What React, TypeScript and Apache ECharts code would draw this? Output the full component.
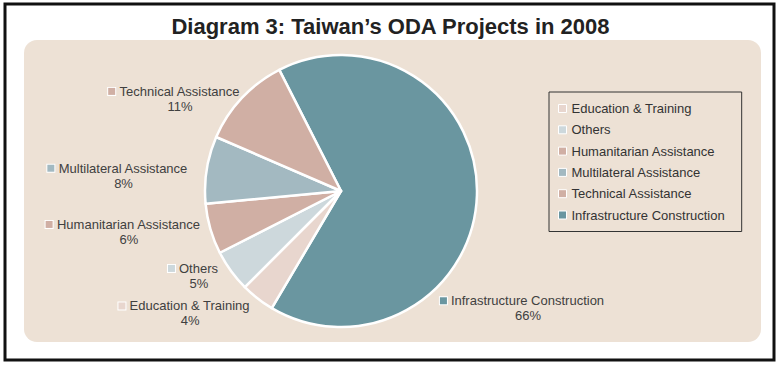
import React, { useEffect, useRef } from "react";
import * as echarts from "echarts";

const categories = [
  "Infrastructure Construction",
  "Education & Training",
  "Others",
  "Humanitarian Assistance",
  "Multilateral Assistance",
  "Technical Assistance",
];
const values = [66, 4, 5, 6, 8, 11];
const legendOrder = [
  "Education & Training",
  "Others",
  "Humanitarian Assistance",
  "Multilateral Assistance",
  "Technical Assistance",
  "Infrastructure Construction",
];
const titleText = "Diagram 3: Taiwan\u2019s ODA Projects in 2008";

const COLORS = ["#6a96a0", "#e8d6ce", "#cdd8dc", "#d0afa4", "#a3b9c1", "#d0afa4"];
const LABEL_DX = [-37, -8, -13, -10, -19, -2];
const LABEL_DY = [113, 15, 5, 3, 6, 1];
const FONT = "'Liberation Sans', Arial, sans-serif";

export default function App() {
  const ref = useRef<HTMLDivElement>(null);
  useEffect(() => {
    document.body.style.margin = "0";
    const chart = echarts.init(ref.current!, null, { renderer: "svg" });
    const rich: any = {
      gap: { width: 4 },
      sp: { width: 12, align: "center" },
      name: { fontSize: 13, color: "#404040", fontFamily: FONT, align: "center", lineHeight: 15 },
      pct: { fontSize: 13, color: "#404040", fontFamily: FONT, align: "center", lineHeight: 15 },
    };
    COLORS.forEach((c, i) => {
      rich["box" + i] = {
        width: 7,
        height: 7,
        backgroundColor: c,
        borderColor: "#ffffff",
        borderWidth: 1,
        align: "center",
      };
    });
    chart.setOption({
      animation: false,
      backgroundColor: "#ffffff",
      title: {
        text: titleText,
        left: "center",
        top: 10,
        textStyle: { fontSize: 22, fontWeight: "bold", color: "#222222", fontFamily: FONT },
      },
      graphic: [
        {
          type: "rect",
          z: -10,
          shape: { x: 5, y: 4, width: 769, height: 356 },
          style: { fill: "#ffffff", stroke: "#111111", lineWidth: 3 },
          silent: true,
        },
        {
          type: "rect",
          z: -9,
          shape: { x: 24, y: 40, width: 737, height: 302, r: 13 },
          style: { fill: "#ede1d5" },
          silent: true,
        },
      ],
      legend: {
        data: legendOrder,
        orient: "vertical",
        left: 549,
        top: 92,
        padding: [10, 17, 10, 9],
        itemGap: 8.3,
        itemWidth: 8,
        itemHeight: 8,
        icon: "rect",
        borderColor: "#333333",
        borderWidth: 1,
        itemStyle: { borderColor: "#ffffff", borderWidth: 1 },
        textStyle: { fontSize: 13, color: "#333333", fontFamily: FONT },
      },
      series: [
        {
          type: "pie",
          center: [341, 191],
          radius: 136,
          startAngle: 117,
          clockwise: true,
          avoidLabelOverlap: false,
          itemStyle: { borderColor: "#ffffff", borderWidth: 2.5 },
          label: {
            show: true,
            position: "outside",
            distanceToLabelLine: 0,
            formatter: (p: any) =>
              `{box${p.dataIndex}|}{gap|}{name|${p.name}}\n{sp|}{pct|${Math.round(p.percent)}%}`,
            rich,
          },
          labelLine: { show: false, length: 0, length2: 0 },
          labelLayout: (p: any) => ({ dx: LABEL_DX[p.dataIndex], dy: LABEL_DY[p.dataIndex] }),
          emphasis: { disabled: true },
          data: categories.map((name, i) => ({
            name,
            value: values[i],
            itemStyle: { color: COLORS[i] },
          })),
        },
      ],
    });
    return () => chart.dispose();
  }, []);
  return (
    <div
      ref={ref}
      style={{ width: 781, height: 367, position: "absolute", left: 0, top: 0 }}
    />
  );
}
